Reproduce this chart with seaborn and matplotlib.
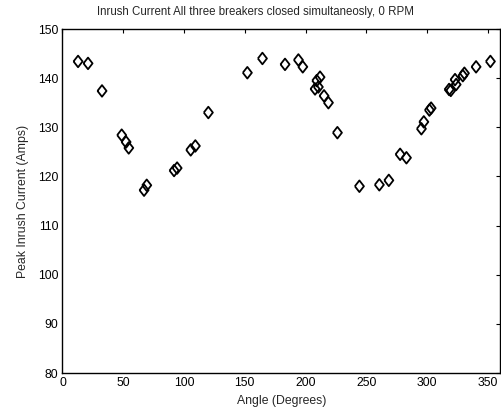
import numpy as np
import pandas as pd
import matplotlib
matplotlib.use("Agg")
import matplotlib.pyplot as plt
import seaborn as sns

angle_deg = [12.8, 21.0, 32.5, 48.7, 52.3, 54.5, 67.1, 69.3, 91.8, 94.3,
             105.5, 109.3, 120.0, 152.1, 164.5, 183.1, 194.1, 197.7,
             207.8, 209.2, 210.5, 211.9, 215.2, 218.8, 226.2,
             244.3, 260.7, 268.5, 277.8, 283.0, 295.3, 297.3, 301.9, 303.3,
             318.1, 319.5, 323.0, 323.9, 329.4, 330.7, 340.3, 352.1]
peak_current = [143.4, 143.0, 137.4, 128.4, 127.0, 125.8, 117.2, 118.2, 121.2, 121.7,
                125.4, 126.2, 133.0, 141.1, 144.0, 142.8, 143.7, 142.3,
                137.8, 139.5, 138.2, 140.2, 136.4, 135.0, 128.9,
                118.0, 118.3, 119.2, 124.5, 123.8, 129.7, 131.1, 133.5, 133.9,
                137.7, 137.5, 139.7, 138.7, 140.5, 141.0, 142.3, 143.4]

df = pd.DataFrame({"angle": angle_deg, "current": peak_current})

sns.set_style("white")
plt.rcParams['font.family'] = ['Liberation Sans', 'DejaVu Sans']

fig = plt.figure(figsize=(5.02, 4.15), dpi=100)
ax = fig.add_axes([62.5/502, 1 - 373/415, (500 - 62.5)/502, (373 - 29)/415])

diamond = [(-0.78, 0), (0, 1), (0.78, 0), (0, -1), (-0.78, 0)]
sns.scatterplot(data=df, x="angle", y="current", ax=ax, marker=diamond,
                s=70, facecolor="none", edgecolor="black", linewidth=1.3)

ax.set_xlim(0, 360)
ax.set_ylim(80, 150)
ax.set_xticks([0, 50, 100, 150, 200, 250, 300, 350])
ax.set_yticks([80, 90, 100, 110, 120, 130, 140, 150])
ax.tick_params(direction="in", length=3, width=0.8, top=True, right=True,
               labelsize=8.8, colors="black", pad=3)
for sp in ax.spines.values():
    sp.set_color("black")
    sp.set_linewidth(1.0)

ax.set_xlabel("Angle (Degrees)", fontsize=8.8, labelpad=4)
ax.set_ylabel("Peak Inrush Current (Amps)", fontsize=8.8, labelpad=6)
ax.set_title("Inrush Current All three breakers closed simultaneosly, 0 RPM",
             fontsize=8.3, pad=10, x=(256 - 62.5) / 437.5)

fig.savefig("out.png", dpi=100)
